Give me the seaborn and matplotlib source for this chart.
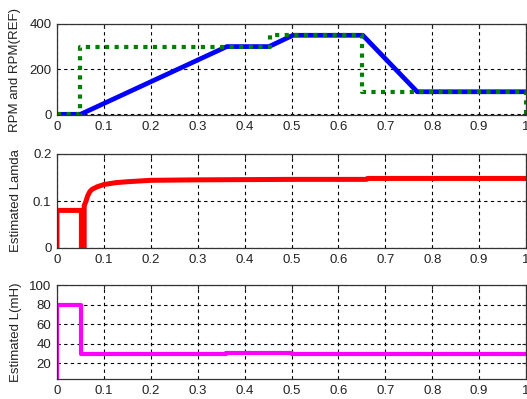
import numpy as np
import pandas as pd
import matplotlib
matplotlib.use("Agg")
import matplotlib.pyplot as plt
import seaborn as sns

# ---- data ----
t_speed = [0.0, 0.05, 0.362, 0.452, 0.503, 0.652, 0.768, 1.0]
rpm = [0, 0, 300, 300, 350, 350, 100, 100]

t_ref = [0.0, 0.05, 0.05, 0.455, 0.455, 0.65, 0.65, 1.0, 1.0]
rpm_ref = [0, 0, 300, 300, 350, 350, 100, 100, 0]

t_lam = [0.0, 0.0, 0.052, 0.052, 0.058, 0.058, 0.062, 0.065, 0.07, 0.075,
         0.085, 0.1, 0.125, 0.15, 0.2, 0.3, 0.5, 0.66, 0.662, 1.0]
lam = [0.0, 0.08, 0.08, 0.0, 0.0, 0.09, 0.1, 0.11, 0.12, 0.125,
       0.13, 0.135, 0.139, 0.141, 0.144, 0.145, 0.146, 0.146, 0.148, 0.148]

t_L = [0.0, 0.0, 0.052, 0.052, 0.36, 0.36, 0.5, 0.5, 1.0]
L_mH = [0, 80, 80, 30, 30, 31, 31, 30, 30]

x_ticks = [0, 0.1, 0.2, 0.3, 0.4, 0.5, 0.6, 0.7, 0.8, 0.9, 1.0]
x_ticklabels = ["0", "0.1", "0.2", "0.3", "0.4", "0.5", "0.6", "0.7", "0.8", "0.9", "1"]

sns.set_theme(style="white")
plt.rcParams["font.family"] = ["Liberation Sans", "DejaVu Sans"]
plt.rcParams["font.size"] = 9.5

W, H = 527, 399
fig = plt.figure(figsize=(W / 100, H / 100), dpi=100)

def add_ax(top_px, bot_px, left_px=57, right_px=526):
    return fig.add_axes([left_px / W, 1 - bot_px / H, (right_px - left_px) / W, (bot_px - top_px) / H])

ax1 = add_ax(24, 115)
ax2 = add_ax(154, 248)
ax3 = add_ax(285, 379)

df_speed = pd.DataFrame({"t": t_speed, "v": rpm})
df_ref = pd.DataFrame({"t": t_ref, "v": rpm_ref})
df_lam = pd.DataFrame({"t": t_lam, "v": lam})
df_L = pd.DataFrame({"t": t_L, "v": L_mH})

sns.lineplot(data=df_speed, x="t", y="v", ax=ax1, color="#0000ff", linewidth=3.4,
             estimator=None, sort=False)
sns.lineplot(data=df_ref, x="t", y="v", ax=ax1, color="#007f00", linewidth=3.0,
             estimator=None, sort=False, linestyle=(0, (1.0, 1.3)))
sns.lineplot(data=df_lam, x="t", y="v", ax=ax2, color="#ff0000", linewidth=3.6,
             estimator=None, sort=False)
sns.lineplot(data=df_L, x="t", y="v", ax=ax3, color="#ff00ff", linewidth=3.0,
             estimator=None, sort=False)

for line in ax1.get_lines():
    line.set_dash_capstyle("butt")

ax1.set_ylim(-3, 400)
ax1.set_yticks([0, 200, 400])
ax2.set_ylim(0, 0.2)
ax2.set_yticks([0, 0.1, 0.2])
ax2.set_yticklabels(["0", "0.1", "0.2"])
ax3.set_ylim(4, 100)
ax3.set_yticks([20, 40, 60, 80, 100])

labels = ["RPM and RPM(REF)", "Estimated Lamda", "Estimated L(mH)"]
label_x = [-0.077, -0.075, -0.075]
for ax, lab, lx in zip([ax1, ax2, ax3], labels, label_x):
    ax.set_xlim(0, 1)
    ax.set_xticks(x_ticks)
    ax.set_xticklabels(x_ticklabels)
    ax.set_xlabel("")
    ax.set_ylabel(lab, fontsize=9.5, color="#222222")
    ax.yaxis.set_label_coords(lx, 0.5)
    ax.grid(True, color="black", linestyle=(0, (3, 3)), linewidth=0.8)
    ax.set_axisbelow(True)
    ax.tick_params(direction="in", length=3, width=0.8, top=True, right=True,
                   colors="#222222", labelsize=9.5, pad=4)
    for s in ax.spines.values():
        s.set_visible(True)
        s.set_color("#333333")
        s.set_linewidth(0.9)
    ax.set_facecolor("white")

fig.savefig("out.png", dpi=100, facecolor="white")
